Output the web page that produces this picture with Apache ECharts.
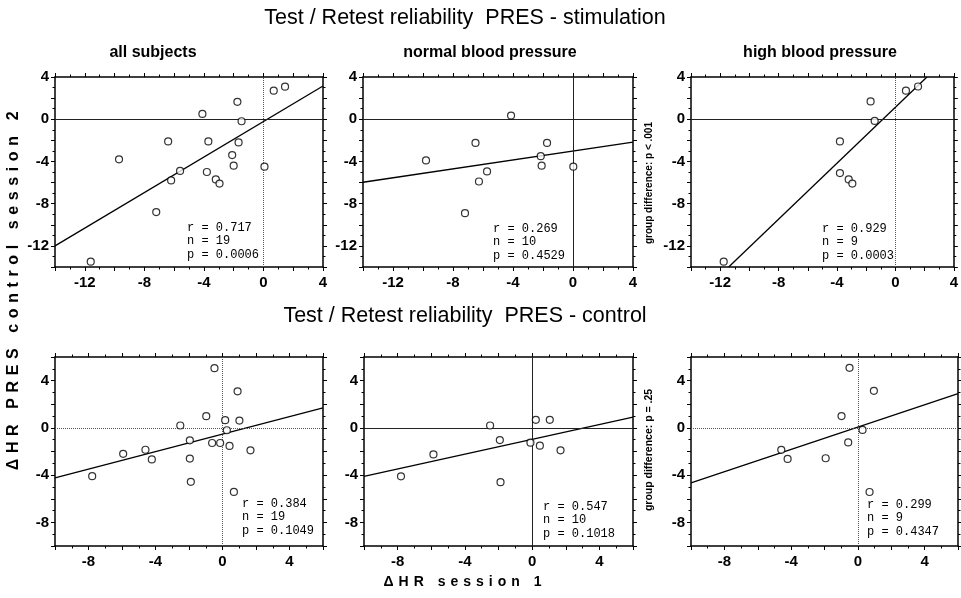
<!DOCTYPE html>
<html><head><meta charset="utf-8">
<script src="https://cdn.jsdelivr.net/npm/echarts@6/dist/echarts.min.js"></script>
<style>html,body{margin:0;padding:0;background:#fff}#c{width:961px;height:598px}</style>
</head><body><div id="c"></div>
<script>
// ---------- data ----------
const stimAllX = [-11.6, -9.7, -7.2, -6.4, -6.2, -5.6, -4.1, -3.7, -3.8, -3.2, -2.95, -2.1, -2.0, -1.75, -1.67, -1.47, 0.07, 0.69, 1.45];
const stimAllY = [-13.5, -3.8, -8.8, -2.1, -5.8, -4.9, 0.5, -2.1, -5.0, -5.7, -6.1, -3.4, -4.4, 1.65, -2.2, -0.19, -4.5, 2.7, 3.08];
const stimNormalX = [-9.8, -6.5, -7.2, -6.27, -5.73, -4.13, -2.15, -2.09, -1.73, 0.02];
const stimNormalY = [-3.9, -2.25, -8.9, -5.9, -4.95, 0.35, -3.5, -4.4, -2.25, -4.5];
const stimHighX = [-11.76, -3.8, -3.8, -3.2, -2.95, -1.7, -1.42, 0.72, 1.55];
const stimHighY = [-13.5, -2.1, -5.1, -5.7, -6.1, 1.69, -0.16, 2.7, 3.1];
const ctrlAllX = [-7.78, -5.93, -4.6, -4.22, -2.52, -1.95, -1.95, -1.89, -0.97, -0.62, -0.48, -0.14, 0.16, 0.26, 0.42, 0.68, 0.9, 1.01, 1.67];
const ctrlAllY = [-4.09, -2.2, -1.85, -2.67, 0.2, -1.05, -2.6, -4.57, 0.99, -1.28, 5.05, -1.28, 0.65, -0.2, -1.53, -5.42, 3.09, 0.62, -1.9];
const ctrlNormalX = [-7.8, -5.87, -2.5, -1.92, -1.88, -0.1, 0.22, 0.46, 1.05, 1.69];
const ctrlNormalY = [-4.1, -2.25, 0.2, -1.03, -4.6, -1.25, 0.68, -1.51, 0.68, -1.9];
const ctrlHighX = [-4.59, -4.21, -1.93, -0.98, -0.58, -0.5, 0.28, 0.7, 0.96];
const ctrlHighY = [-1.86, -2.63, -2.57, 1.0, -1.23, 5.08, -0.17, -5.43, 3.14];

// regression line end points
const fitStimAll = [[-14, -12.0], [4, 3.15]];
const fitStimNormal = [[-14, -5.97], [4, -2.16]];
const fitStimHigh = [[-11.42, -14], [2.16, 4]];
const fitCtrlAll = [[-10, -4.23], [6, 1.7]];
const fitCtrlNormal = [[-10, -4.1], [6, 0.91]];
const fitCtrlHigh = [[-10, -4.66], [6, 2.9]];

const statR = ['0.717', '0.269', '0.929', '0.384', '0.547', '0.299'];
const statN = ['19', '10', '9', '19', '10', '9'];
const statP = ['0.0006', '0.4529', '0.0003', '0.1049', '0.1018', '0.4347'];

const rangeTop = [-14, 4];
const rangeBottom = [-10, 6];
const tickStep = 2;
const labelStep = 4;

const panelTitles = ['all subjects', 'normal blood pressure', 'high blood pressure'];
const rowTitles = ['Test / Retest reliability  PRES - stimulation', 'Test / Retest reliability  PRES - control'];
const yTitle = 'ΔHR PRES control session 2';
const xTitle = 'ΔHR session 1';
const groupNotes = ['group difference: p < .001', 'group difference: p = .25'];

// ---------- letter spacing for the spaced-out axis titles ----------
const SPACED = {};
SPACED[yTitle] = '5.6px';
SPACED[xTitle] = '5px';
(function () {
  const proto = CanvasRenderingContext2D.prototype;
  const orig = proto.fillText;
  const call = (ctx, t, x, y, w) => (w === undefined ? orig.call(ctx, t, x, y) : orig.call(ctx, t, x, y, w));
  proto.fillText = function (t, x, y, w) {
    const ls = SPACED[t];
    if (ls && 'letterSpacing' in this) {
      const f = this.font;
      this.letterSpacing = ls;
      this.font = f;
      call(this, t, x, y, w);
      this.letterSpacing = '0px';
      this.font = '10px sans-serif';
      this.font = f;
      return;
    }
    return call(this, t, x, y, w);
  };
})();

// ---------- layout ----------
const panels = [
  { xs: stimAllX, ys: stimAllY, fit: fitStimAll, range: rangeTop, grid: { left: 55, top: 77, width: 268, height: 190 }, h: 'solid', v: 'dotted', stat: [187, 221] },
  { xs: stimNormalX, ys: stimNormalY, fit: fitStimNormal, range: rangeTop, grid: { left: 363, top: 77, width: 270, height: 190 }, h: 'solid', v: 'solid', stat: [493, 222] },
  { xs: stimHighX, ys: stimHighY, fit: fitStimHigh, range: rangeTop, grid: { left: 691, top: 77, width: 267, height: 190 }, h: 'solid', v: 'dotted', stat: [822, 222] },
  { xs: ctrlAllX, ys: ctrlAllY, fit: fitCtrlAll, range: rangeBottom, grid: { left: 55, top: 357, width: 268, height: 189 }, h: 'dotted', v: 'dotted', stat: [242, 497] },
  { xs: ctrlNormalX, ys: ctrlNormalY, fit: fitCtrlNormal, range: rangeBottom, grid: { left: 364, top: 357, width: 269, height: 189 }, h: 'solid', v: 'solid', stat: [543, 500] },
  { xs: ctrlHighX, ys: ctrlHighY, fit: fitCtrlHigh, range: rangeBottom, grid: { left: 691, top: 357, width: 267, height: 189 }, h: 'dotted', v: 'dotted', stat: [867, 498] }
];

const FONT = '"Liberation Sans", Arial, Helvetica, sans-serif';
const labelFmt = v => (Math.round(v) % labelStep === 0 ? String(Math.round(v)) : '');

function axis(kind, i, range, position, showLabel) {
  return {
    type: 'value', gridIndex: i, position: position,
    min: range[0], max: range[1], interval: tickStep,
    axisLine: { show: true, onZero: false, lineStyle: { color: '#000', width: 1.5 } },
    axisTick: { show: true, inside: false, length: 4, lineStyle: { color: '#000', width: 1 } },
    minorTick: { show: true, splitNumber: 2, length: 2.5, lineStyle: { color: '#000', width: 1 } },
    axisLabel: {
      show: showLabel, formatter: labelFmt, color: '#000', fontSize: 15, fontWeight: 'bold', fontFamily: FONT,
      margin: kind === 'x' ? 8 : 6, showMinLabel: true, showMaxLabel: true
    },
    splitLine: { show: false }, minorSplitLine: { show: false }
  };
}

const grid = [], xAxis = [], yAxis = [], series = [];
panels.forEach((p, i) => {
  grid.push(Object.assign({ containLabel: false }, p.grid));
  xAxis.push(axis('x', i, p.range, 'bottom', true));
  xAxis.push(axis('x', i, p.range, 'top', false));
  yAxis.push(axis('y', i, p.range, 'left', true));
  yAxis.push(axis('y', i, p.range, 'right', false));
  const zeroStyle = t => (t === 'solid'
    ? { color: '#222', width: 1, type: 'solid' }
    : { color: '#555', width: 1, type: 'dotted' });
  series.push({
    type: 'line', xAxisIndex: 2 * i, yAxisIndex: 2 * i,
    data: p.fit, showSymbol: false, symbol: 'none', clip: true, z: 4,
    lineStyle: { color: '#000', width: 1.3 },
    markLine: {
      silent: true, symbol: 'none', label: { show: false }, animation: false,
      data: [
        { xAxis: 0, lineStyle: zeroStyle(p.v) },
        { yAxis: 0, lineStyle: zeroStyle(p.h) }
      ]
    }
  });
  series.push({
    type: 'scatter', xAxisIndex: 2 * i, yAxisIndex: 2 * i, z: 6,
    symbol: 'circle', symbolSize: 7,
    itemStyle: { color: '#fff', borderColor: '#000', borderWidth: 1.2 },
    data: p.xs.map((x, k) => [x, p.ys[k]])
  });
});

const graphic = [];
function txt(x, y, text, opts) {
  graphic.push(Object.assign({
    type: 'text', x: x, y: y, silent: true,
    style: Object.assign({ text: text, fill: '#000', fontFamily: FONT, fontSize: 15, align: 'center', verticalAlign: 'middle' }, opts.style || {})
  }, opts.el || {}));
}
txt(465, 18, rowTitles[0], { style: { fontSize: 21.5 } });
txt(465, 316, rowTitles[1], { style: { fontSize: 21.5 } });
txt(153, 53, panelTitles[0], { style: { fontSize: 16, fontWeight: 'bold' } });
txt(490, 53, panelTitles[1], { style: { fontSize: 16, fontWeight: 'bold' } });
txt(820, 53, panelTitles[2], { style: { fontSize: 16, fontWeight: 'bold' } });
txt(14, 288, yTitle, { style: { fontSize: 16, fontWeight: 'bold' }, el: { rotation: Math.PI / 2 } });
txt(465, 582, xTitle, { style: { fontSize: 14, fontWeight: 'bold' } });
txt(649, 183, groupNotes[0], { style: { fontSize: 10, fontWeight: 'bold' }, el: { rotation: Math.PI / 2 } });
txt(649, 450, groupNotes[1], { style: { fontSize: 10.5, fontWeight: 'bold' }, el: { rotation: Math.PI / 2 } });
panels.forEach((p, i) => {
  const s = 'r = ' + statR[i] + '\nn = ' + statN[i] + '\np = ' + statP[i];
  txt(p.stat[0], p.stat[1], s, {
    style: { fontFamily: '"Liberation Mono", "Courier New", monospace', fontSize: 12, lineHeight: 13.5, align: 'left', verticalAlign: 'top', fill: '#000' }
  });
});

const chart = echarts.init(document.getElementById('c'), null, { renderer: 'canvas' });
chart.setOption({
  animation: false,
  backgroundColor: '#fff',
  grid: grid, xAxis: xAxis, yAxis: yAxis, series: series, graphic: graphic
});
</script>
</body></html>
